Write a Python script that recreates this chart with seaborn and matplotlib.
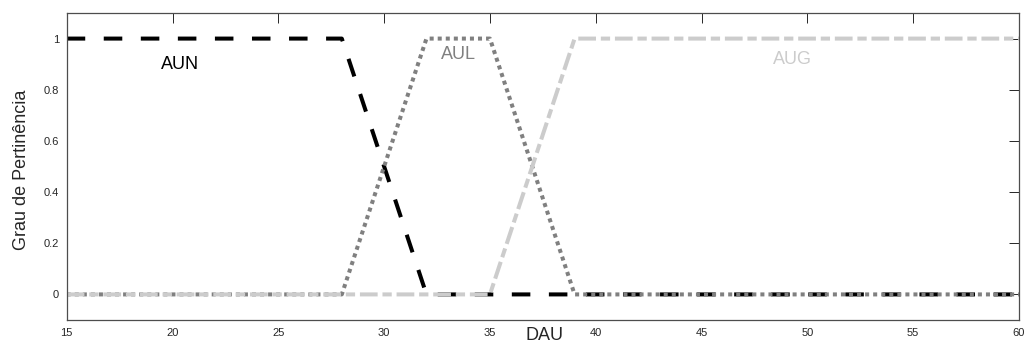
import matplotlib
matplotlib.use("Agg")
import matplotlib.pyplot as plt
import seaborn as sns
import pandas as pd

# Data: membership functions (breakpoints)
aun_x = [15, 28, 32, 60]
aun_y = [1, 1, 0, 0]
aul_x = [15, 28, 32, 35, 39, 60]
aul_y = [0, 0, 1, 1, 0, 0]
aug_x = [15, 35, 39, 60]
aug_y = [0, 0, 1, 1]

labels = ["AUN", "AUL", "AUG"]
label_x = [20.35, 33.5, 49.3]
label_y = [0.90, 0.938, 0.919]

x_ticks = [15, 20, 25, 30, 35, 40, 45, 50, 55, 60]
y_ticks = [0, 0.2, 0.4, 0.6, 0.8, 1]
y_tick_labels = ["0", "0.2", "0.4", "0.6", "0.8", "1"]

sns.set_style("white")
plt.rcParams["font.family"] = ["Liberation Sans", "DejaVu Sans"]

fig = plt.figure(figsize=(10.29, 3.45), dpi=100)
ax = fig.add_axes([66.7 / 1029, 25 / 345, 952.3 / 1029, 307 / 345])

colors = ["black", (0.5, 0.5, 0.5), (0.8, 0.8, 0.8)]
styles = [(0, (4.6, 4.6)), (0, (1, 1)), (0, (4.4, 1.2, 2.3, 1.2))]
series = [(aun_x, aun_y), (aul_x, aul_y), (aug_x, aug_y)]
for (xs, ys), c, ls in zip(series, colors, styles):
    df = pd.DataFrame({"x": xs, "y": ys})
    sns.lineplot(data=df, x="x", y="y", ax=ax, color=c, linewidth=2.9,
                 linestyle=ls, solid_capstyle="butt", dash_capstyle="butt")

for t, tx, ty, c in zip(labels, label_x, label_y, colors):
    ax.text(tx, ty, t, color=c, fontsize=13, ha="center", va="center")

ax.set_xlim(15, 60)
ax.set_ylim(-0.1, 1.1)
ax.set_xticks(x_ticks)
ax.set_xticklabels([str(v) for v in x_ticks])
ax.set_yticks(y_ticks)
ax.set_yticklabels(y_tick_labels)

axc = (0.15, 0.15, 0.15)
ax.tick_params(direction="in", length=7, width=0.7, top=True, right=True,
               labelsize=8, colors=axc, pad=5.5)
for s in ax.spines.values():
    s.set_color((0.3, 0.3, 0.3))
    s.set_linewidth(0.9)

ax.set_xlabel("DAU", fontsize=13, color=axc, va="center")
ax.xaxis.set_label_coords(0.502, -0.05)
ax.set_ylabel("Grau de Pertinência", fontsize=13, color=axc, va="center")
ax.yaxis.set_label_coords(-0.047, 0.489)

fig.savefig("out.png", dpi=100)
